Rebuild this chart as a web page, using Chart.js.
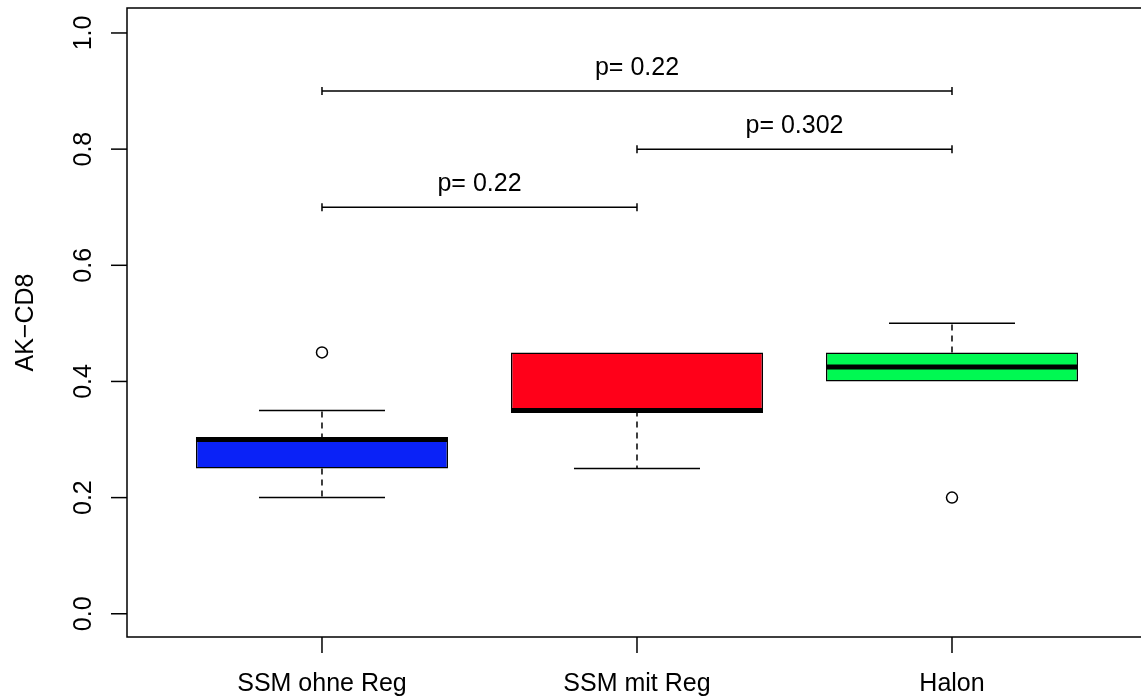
<!DOCTYPE html>
<html>
<head>
<meta charset="utf-8">
<script src="https://cdn.jsdelivr.net/npm/chart.js@4"></script>
<style>
  html, body { margin: 0; padding: 0; background: #fff; overflow: hidden; }
  #wrap { width: 1141px; height: 700px; position: relative; }
</style>
</head>
<body>
<div id="wrap"><canvas id="grafico"></canvas></div>
<script>
const categorias = ["SSM ohne Reg", "SSM mit Reg", "Halon"];
const bigodeMin = [0.20, 0.25, 0.40];
const q1 = [0.25, 0.35, 0.40];
const mediana = [0.30, 0.35, 0.425];
const q3 = [0.30, 0.45, 0.45];
const bigodeMax = [0.35, 0.45, 0.50];
const outliers = [[0.45], [], [0.20]];
const yTicks = [0.0, 0.2, 0.4, 0.6, 0.8, 1.0];
const yTitulo = "AK\u2212CD8";

// comparações (grupo a, grupo b, altura, texto)
const compA = [1, 2, 1];
const compB = [3, 3, 2];
const compY = [0.9, 0.8, 0.7];
const compTexto = ["p= 0.22", "p= 0.302", "p= 0.22"];

const cores = ["#0a22f7", "#ff0019", "#00f952"];
const fonte = "25px 'Liberation Sans', Arial, sans-serif";

const pontosOutliers = [];
outliers.forEach((lista, i) => {
  lista.forEach(v => pontosOutliers.push({ x: i + 1, y: v }));
});

// desenha medianas, bigodes, moldura, eixos e comparações
const extras = {
  id: "extras",
  afterDatasetsDraw(chart) {
    const ctx = chart.ctx;
    const x = chart.scales.x;
    const y = chart.scales.y;
    const area = chart.chartArea;
    ctx.save();
    ctx.strokeStyle = "#000";
    ctx.fillStyle = "#000";

    categorias.forEach((c, i) => {
      const cx = x.getPixelForValue(i + 1);
      // bigodes tracejados
      ctx.lineWidth = 1.5;
      ctx.setLineDash([6, 5]);
      ctx.beginPath();
      if (bigodeMin[i] < q1[i]) {
        ctx.moveTo(cx, y.getPixelForValue(q1[i]));
        ctx.lineTo(cx, y.getPixelForValue(bigodeMin[i]));
      }
      if (bigodeMax[i] > q3[i]) {
        ctx.moveTo(cx, y.getPixelForValue(q3[i]));
        ctx.lineTo(cx, y.getPixelForValue(bigodeMax[i]));
      }
      ctx.stroke();
      ctx.setLineDash([]);
      // hastes
      const h0 = x.getPixelForValue(i + 1 - 0.2);
      const h1 = x.getPixelForValue(i + 1 + 0.2);
      ctx.beginPath();
      if (bigodeMin[i] < q1[i]) {
        const py = y.getPixelForValue(bigodeMin[i]);
        ctx.moveTo(h0, py); ctx.lineTo(h1, py);
      }
      if (bigodeMax[i] > q3[i]) {
        const py = y.getPixelForValue(bigodeMax[i]);
        ctx.moveTo(h0, py); ctx.lineTo(h1, py);
      }
      ctx.stroke();
      // mediana
      const b0 = x.getPixelForValue(i + 1 - 0.4);
      const b1 = x.getPixelForValue(i + 1 + 0.4);
      const my = y.getPixelForValue(mediana[i]);
      ctx.lineWidth = 5;
      ctx.beginPath();
      ctx.moveTo(b0, my); ctx.lineTo(b1, my);
      ctx.stroke();
    });

    // moldura
    ctx.lineWidth = 1.5;
    ctx.beginPath();
    ctx.moveTo(area.right + 10, area.top);
    ctx.lineTo(area.left, area.top);
    ctx.lineTo(area.left, area.bottom);
    ctx.lineTo(area.right + 10, area.bottom);
    ctx.stroke();

    // eixo y
    ctx.font = fonte;
    yTicks.forEach(t => {
      const py = y.getPixelForValue(t);
      ctx.beginPath();
      ctx.moveTo(area.left - 16, py); ctx.lineTo(area.left, py);
      ctx.stroke();
      ctx.save();
      ctx.translate(area.left - 36, py);
      ctx.rotate(-Math.PI / 2);
      ctx.textAlign = "center";
      ctx.textBaseline = "alphabetic";
      ctx.fillText(t.toFixed(1), 0, 0);
      ctx.restore();
    });
    ctx.save();
    ctx.translate(33, (area.top + area.bottom) / 2);
    ctx.rotate(-Math.PI / 2);
    ctx.textAlign = "center";
    ctx.fillText(yTitulo, 0, 0);
    ctx.restore();

    // eixo x
    categorias.forEach((c, i) => {
      const px = x.getPixelForValue(i + 1);
      ctx.beginPath();
      ctx.moveTo(px, area.bottom); ctx.lineTo(px, area.bottom + 16);
      ctx.stroke();
      ctx.textAlign = "center";
      ctx.textBaseline = "alphabetic";
      ctx.fillText(c, px, area.bottom + 54);
    });

    // comparações
    compTexto.forEach((txt, k) => {
      const xa = x.getPixelForValue(compA[k]);
      const xb = x.getPixelForValue(compB[k]);
      const py = y.getPixelForValue(compY[k]);
      ctx.lineWidth = 1.5;
      ctx.beginPath();
      ctx.moveTo(xa, py); ctx.lineTo(xb, py);
      ctx.moveTo(xa, py - 4); ctx.lineTo(xa, py + 4);
      ctx.moveTo(xb, py - 4); ctx.lineTo(xb, py + 4);
      ctx.stroke();
      ctx.textAlign = "center";
      ctx.fillText(txt, (xa + xb) / 2, py - 16);
    });

    ctx.restore();
  }
};

new Chart(document.getElementById("grafico"), {
  type: "bar",
  data: {
    datasets: [
      {
        type: "bar",
        data: categorias.map((c, i) => ({ x: i + 1, y: [q1[i], q3[i]] })),
        backgroundColor: cores,
        borderColor: "#000",
        borderWidth: 1.5,
        borderSkipped: false,
        barPercentage: 0.8,
        categoryPercentage: 1.0,
        order: 2
      },
      {
        type: "scatter",
        data: pontosOutliers,
        pointRadius: 5.5,
        pointBackgroundColor: "#fff",
        pointBorderColor: "#000",
        pointBorderWidth: 1.5,
        order: 1
      }
    ]
  },
  options: {
    responsive: true,
    maintainAspectRatio: false,
    animation: false,
    layout: { autoPadding: false, padding: { left: 127, top: 8, right: 0, bottom: 63 } },
    plugins: {
      legend: { display: false },
      tooltip: { enabled: false }
    },
    scales: {
      x: {
        type: "linear", min: 0.381, max: 3.6, offset: false, display: false,
        afterBuildTicks: s => { s.ticks = categorias.map((c, i) => ({ value: i + 1 })); }
      },
      y: { type: "linear", min: -0.04, max: 1.043, display: false }
    }
  },
  plugins: [extras]
});
</script>
</body>
</html>
